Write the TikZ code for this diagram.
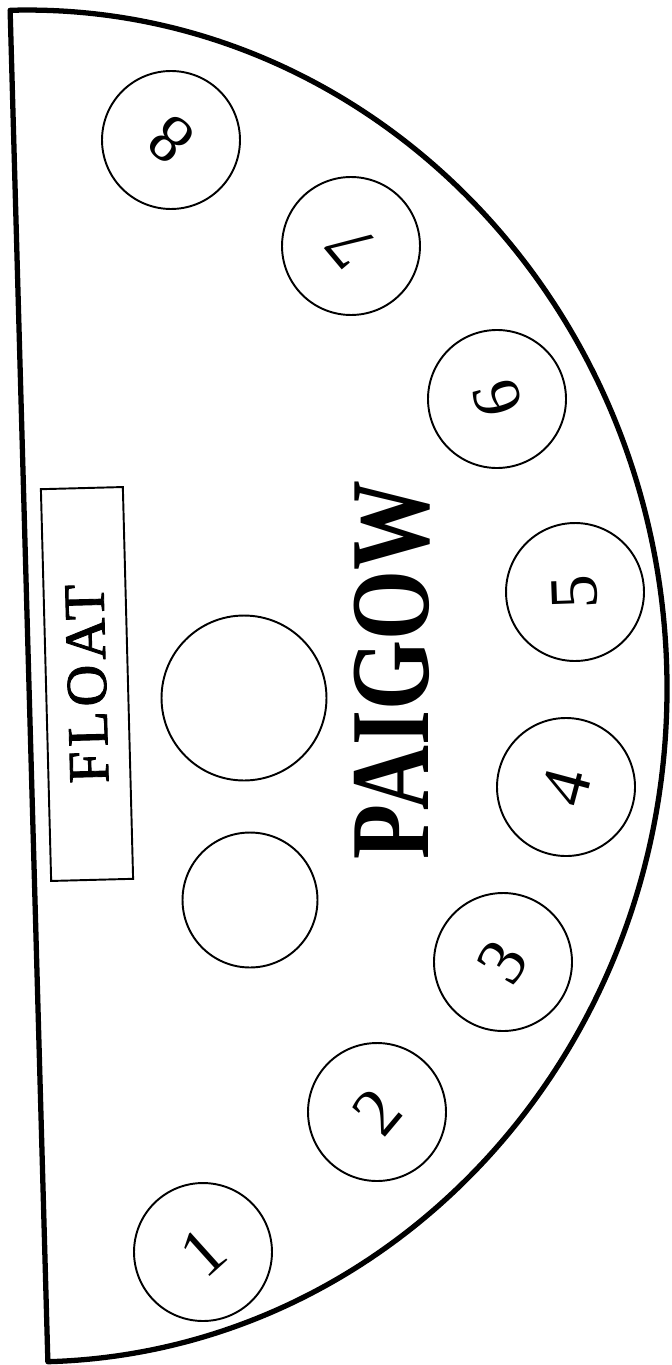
\documentclass[tikz,border=0pt]{standalone}
\usepackage{fontspec}
\setmainfont{Liberation Serif}
\newfontfamily\floatfont[LetterSpace=8,FakeBold=1.5]{Liberation Serif}

\begin{document}
\begin{tikzpicture}[x=0.02cm, y=-0.02cm,
  tableedge/.style={line width=3pt, line join=round},
  floatbox/.style={draw, line width=1.1pt, minimum width=7.84cm, minimum height=1.64cm, inner sep=0pt, font=\floatfont\fontsize{33}{33}\selectfont},
  blankspot/.style={circle, draw, line width=1.1pt, minimum size=2.7cm, inner sep=0pt},
  seatspot/.style={circle, draw, line width=1.1pt, minimum size=2.76cm, inner sep=0pt, font=\fontsize{39}{39}\selectfont}]
\useasboundingbox[fill=white] (0,0) rectangle (672,1365);
% table edge
\begin{scope}[rotate around={1.6:(29,686)}]
\draw[tableedge] (29,10) arc[start angle=-90, end angle=90, x radius=638, y radius=676] -- cycle;
\end{scope}
\node[floatbox, rotate=91.5] (float) at (87,684) {FLOAT};
% dealer spots
\node[blankspot, minimum size=3.3cm] (bank) at (244,698) {};
\node[blankspot] (spare) at (250,900) {};
\node[rotate=90, font=\bfseries\fontsize{64}{64}\selectfont] (title) at (392,670) {\scalebox{0.8}[1]{PAIGOW}};
% seats
\foreach \n/\px/\py/\ang in {1/203/1252/42, 2/377/1112/50, 3/503/962/58, 4/566/787/75,
    5/575/592/92, 6/497/399/105, 7/351/246/130, 8/171/140/140}
  \node[seatspot, rotate=\ang] (seat\n) at (\px,\py) {\n};
\end{tikzpicture}
\end{document}
